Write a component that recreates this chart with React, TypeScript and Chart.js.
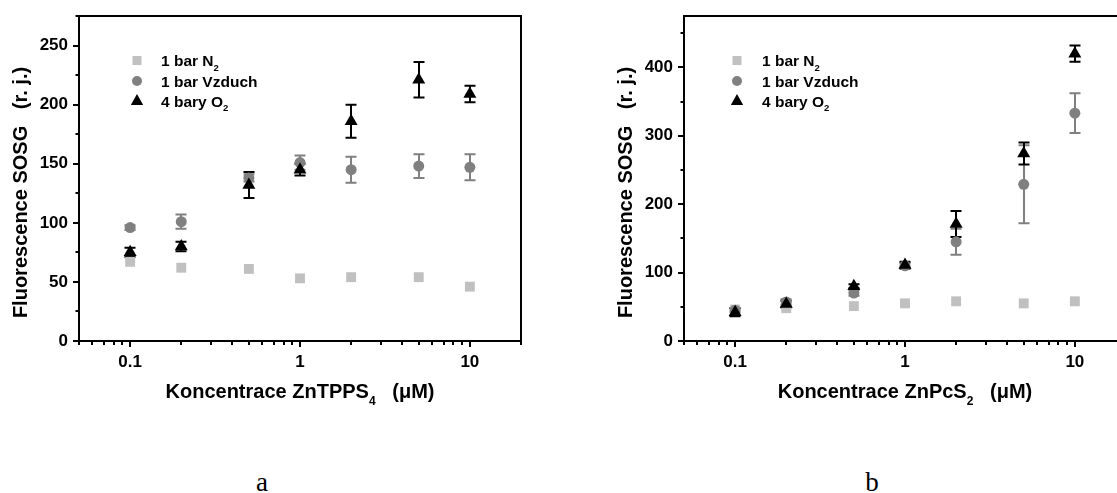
import React, { useEffect, useRef } from "react";
import { Chart, registerables } from "chart.js";

Chart.register(...registerables);

// ---------- data ----------
const concentrations = [0.1, 0.2, 0.5, 1, 2, 5, 10];
const xTickLabels = [0.1, 1, 10];

// Chart a (ZnTPPS4)
const aN2 = [67, 62, 61, 53, 54, 54, 46];
const aAir = [96, 101, 138, 151, 145, 148, 147];
const aAirErr = [2, 6, 3, 6, 11, 10, 11];
const aO2 = [75, 80, 132, 145, 186, 221, 209];
const aO2Err = [4, 4, 11, 5, 14, 15, 7];

// Chart b (ZnPcS2)
const bN2 = [46, 48, 51, 55, 58, 55, 58];
const bAir = [45, 57, 70, 110, 145, 229, 333];
const bAirErr = [3, 4, 4, 4, 19, 57, 29];
const bO2 = [42, 54, 80, 111, 171, 274, 420];
const bO2Err = [6, 5, 3, 5, 19, 16, 12];

const legendNames = [
  [{ t: "1 bar N" }, { t: "2", sub: true }],
  [{ t: "1 bar Vzduch" }],
  [{ t: "4 bary O" }, { t: "2", sub: true }],
];
const yTitle = [{ t: "Fluorescence SOSG   (r. j.)" }];
const xTitleA = [{ t: "Koncentrace ZnTPPS" }, { t: "4", sub: true }, { t: "   (\u03bcM)" }];
const xTitleB = [{ t: "Koncentrace ZnPcS" }, { t: "2", sub: true }, { t: "   (\u03bcM)" }];

const FONT = '"Liberation Sans", Arial, Helvetica, sans-serif';
const C_N2 = "#c0c0c0";
const C_AIR = "#808080";
const C_O2 = "#000000";

type Part = { t: string; sub?: boolean };

function drawParts(
  ctx: CanvasRenderingContext2D,
  parts: Part[],
  x: number,
  y: number,
  size: number,
  subSize: number,
  subDy: number,
  center: boolean
) {
  const fonts = parts.map((p) => `bold ${p.sub ? subSize : size}px ${FONT}`);
  let w = 0;
  const ws = parts.map((p, i) => {
    ctx.font = fonts[i];
    const m = ctx.measureText(p.t).width;
    w += m;
    return m;
  });
  let cx = center ? x - w / 2 : x;
  ctx.textBaseline = "alphabetic";
  ctx.textAlign = "left";
  parts.forEach((p, i) => {
    ctx.font = fonts[i];
    ctx.fillText(p.t, cx, p.sub ? y + subDy : y);
    cx += ws[i];
  });
}

function buildLogTicks(): number[] {
  const out: number[] = [];
  for (let e = -2; e <= 1; e++) {
    for (let d = 1; d <= 9; d++) {
      const v = Math.round(d * Math.pow(10, e) * 1e6) / 1e6;
      if (v >= 0.05 && v <= 20) out.push(v);
    }
  }
  return out;
}

interface PanelCfg {
  n2: number[];
  air: number[];
  airErr: number[];
  o2: number[];
  o2Err: number[];
  yMax: number;
  yStep: number;
  yLabelStep: number;
  xTitle: Part[];
  legendMarkerX: number;
  legendTextX: number;
}

function makePlugin(cfg: PanelCfg) {
  return {
    id: "panelDecor",
    beforeDatasetsDraw(chart: any) {
      const ctx: CanvasRenderingContext2D = chart.ctx;
      const xs = chart.scales.x;
      const ys = chart.scales.y;
      const bars = [
        { v: cfg.air, e: cfg.airErr, c: C_AIR },
        { v: cfg.o2, e: cfg.o2Err, c: C_O2 },
      ];
      ctx.save();
      ctx.lineWidth = 2;
      bars.forEach((b) => {
        ctx.strokeStyle = b.c;
        concentrations.forEach((xv, i) => {
          const px = Math.round(xs.getPixelForValue(xv));
          const yt = ys.getPixelForValue(b.v[i] + b.e[i]);
          const yb = ys.getPixelForValue(b.v[i] - b.e[i]);
          ctx.beginPath();
          ctx.moveTo(px, yt);
          ctx.lineTo(px, yb);
          ctx.moveTo(px - 5.5, yt);
          ctx.lineTo(px + 5.5, yt);
          ctx.moveTo(px - 5.5, yb);
          ctx.lineTo(px + 5.5, yb);
          ctx.stroke();
        });
      });
      ctx.restore();
    },
    afterDraw(chart: any) {
      const ctx: CanvasRenderingContext2D = chart.ctx;
      const a = chart.chartArea;
      const xs = chart.scales.x;
      const ys = chart.scales.y;
      ctx.save();
      // frame
      ctx.strokeStyle = "#000";
      ctx.lineWidth = 2;
      ctx.beginPath();
      ctx.rect(a.left, a.top, a.right - a.left, a.bottom - a.top);
      ctx.stroke();
      // y ticks
      ctx.beginPath();
      ys.ticks.forEach((t: any) => {
        const py = Math.round(ys.getPixelForValue(t.value));
        const len = t.value % cfg.yLabelStep === 0 ? 6 : 3.5;
        ctx.moveTo(a.left - len, py);
        ctx.lineTo(a.left, py);
      });
      // x ticks
      xs.ticks.forEach((t: any) => {
        const px = Math.round(xs.getPixelForValue(t.value));
        const major = xTickLabels.some((v) => Math.abs(v - t.value) < 1e-9);
        const len = major ? 6 : 4;
        ctx.moveTo(px, a.bottom);
        ctx.lineTo(px, a.bottom + len);
      });
      ctx.stroke();

      ctx.fillStyle = "#000";
      // x title
      drawParts(ctx, cfg.xTitle, (a.left + a.right) / 2, 398, 20, 12, 7, true);
      // y title
      ctx.save();
      ctx.translate(26.5, (a.top + a.bottom) / 2 + 14);
      ctx.rotate(-Math.PI / 2);
      drawParts(ctx, yTitle, 0, 0, 20, 12, 7, true);
      ctx.restore();

      // legend
      const rowsY = [60.5, 81, 101];
      const mx = a.left + cfg.legendMarkerX;
      const tx = a.left + cfg.legendTextX;
      // square
      ctx.fillStyle = C_N2;
      ctx.fillRect(mx - 4.5, rowsY[0] - 4.5, 9, 9);
      // circle
      ctx.fillStyle = C_AIR;
      ctx.beginPath();
      ctx.arc(mx, rowsY[1], 5, 0, Math.PI * 2);
      ctx.fill();
      // triangle
      ctx.fillStyle = C_O2;
      ctx.beginPath();
      ctx.moveTo(mx, rowsY[2] - 7);
      ctx.lineTo(mx + 6.2, rowsY[2] + 4);
      ctx.lineTo(mx - 6.2, rowsY[2] + 4);
      ctx.closePath();
      ctx.fill();
      ctx.fillStyle = "#000";
      legendNames.forEach((parts, i) => {
        drawParts(ctx, parts as Part[], tx, rowsY[i] + 5.5, 15.5, 9.5, 4.5, false);
      });
      ctx.restore();
    },
  };
}

function Panel({ cfg, left }: { cfg: PanelCfg; left: number }) {
  const ref = useRef<HTMLCanvasElement | null>(null);
  useEffect(() => {
    if (!ref.current) return;
    const toPts = (arr: number[]) => concentrations.map((x, i) => ({ x, y: arr[i] }));
    const logTicks = buildLogTicks();
    const chart = new Chart(ref.current, {
      type: "scatter",
      data: {
        datasets: [
          {
            label: "4 bary O2",
            data: toPts(cfg.o2),
            pointStyle: "triangle",
            pointRadius: 7.5,
            backgroundColor: C_O2,
            borderColor: C_O2,
            borderWidth: 0,
            order: 0,
          },
          {
            label: "1 bar Vzduch",
            data: toPts(cfg.air),
            pointStyle: "circle",
            pointRadius: 5.5,
            backgroundColor: C_AIR,
            borderColor: C_AIR,
            borderWidth: 0,
            order: 1,
          },
          {
            label: "1 bar N2",
            data: toPts(cfg.n2),
            pointStyle: "rect",
            pointRadius: 7,
            backgroundColor: C_N2,
            borderColor: C_N2,
            borderWidth: 0,
            order: 2,
          },
        ],
      },
      options: {
        responsive: false,
        animation: false,
        devicePixelRatio: 1,
        layout: { padding: { top: 16, right: 39, left: 0, bottom: 0 } },
        plugins: { legend: { display: false }, tooltip: { enabled: false } },
        scales: {
          x: {
            type: "logarithmic",
            min: 0.05,
            max: 20,
            grid: { display: false, drawTicks: true, tickLength: 6 },
            border: { display: false },
            afterBuildTicks: (scale: any) => {
              scale.ticks = logTicks.map((v) => ({ value: v }));
            },
            afterFit: (scale: any) => {
              scale.height = 79;
            },
            ticks: {
              autoSkip: false,
              maxRotation: 0,
              padding: 5,
              color: "#000",
              font: { family: FONT, size: 17, weight: "bold" },
              callback: (value: any) => {
                const v = Number(value);
                const hit = xTickLabels.find((t) => Math.abs(t - v) < 1e-9);
                return hit !== undefined ? String(hit) : "";
              },
            },
          },
          y: {
            type: "linear",
            min: 0,
            max: cfg.yMax,
            grid: { display: false, drawTicks: true, tickLength: 6 },
            border: { display: false },
            afterFit: (scale: any) => {
              scale.width = 79;
            },
            ticks: {
              stepSize: cfg.yStep,
              includeBounds: false,
              autoSkip: false,
              padding: 5,
              color: "#000",
              font: { family: FONT, size: 17, weight: "bold" },
              callback: (value: any) => {
                const v = Number(value);
                return v % cfg.yLabelStep === 0 ? String(v) : "";
              },
            },
          },
        },
      } as any,
      plugins: [makePlugin(cfg) as any],
    });
    return () => chart.destroy();
  }, [cfg]);
  return (
    <canvas
      ref={ref}
      width={560}
      height={420}
      style={{ position: "absolute", left, top: 0, width: 560, height: 420 }}
    />
  );
}

const cfgA: PanelCfg = {
  n2: aN2,
  air: aAir,
  airErr: aAirErr,
  o2: aO2,
  o2Err: aO2Err,
  yMax: 275,
  yStep: 25,
  yLabelStep: 50,
  xTitle: xTitleA,
  legendMarkerX: 58,
  legendTextX: 82,
};

const cfgB: PanelCfg = {
  n2: bN2,
  air: bAir,
  airErr: bAirErr,
  o2: bO2,
  o2Err: bO2Err,
  yMax: 475,
  yStep: 50,
  yLabelStep: 100,
  xTitle: xTitleB,
  legendMarkerX: 53,
  legendTextX: 78,
};

const letterStyle: React.CSSProperties = {
  position: "absolute",
  top: 469,
  width: 40,
  textAlign: "center",
  fontFamily: '"Liberation Serif", "Times New Roman", serif',
  fontSize: 27,
  lineHeight: "27px",
  color: "#000",
};

export default function App() {
  return (
    <div
      style={{
        position: "absolute",
        left: 0,
        top: 0,
        width: 1117,
        height: 493,
        overflow: "hidden",
        background: "#fff",
      }}
    >
      <Panel cfg={cfgA} left={0} />
      <Panel cfg={cfgB} left={605} />
      <div style={{ ...letterStyle, left: 242 }}>a</div>
      <div style={{ ...letterStyle, left: 852 }}>b</div>
    </div>
  );
}
